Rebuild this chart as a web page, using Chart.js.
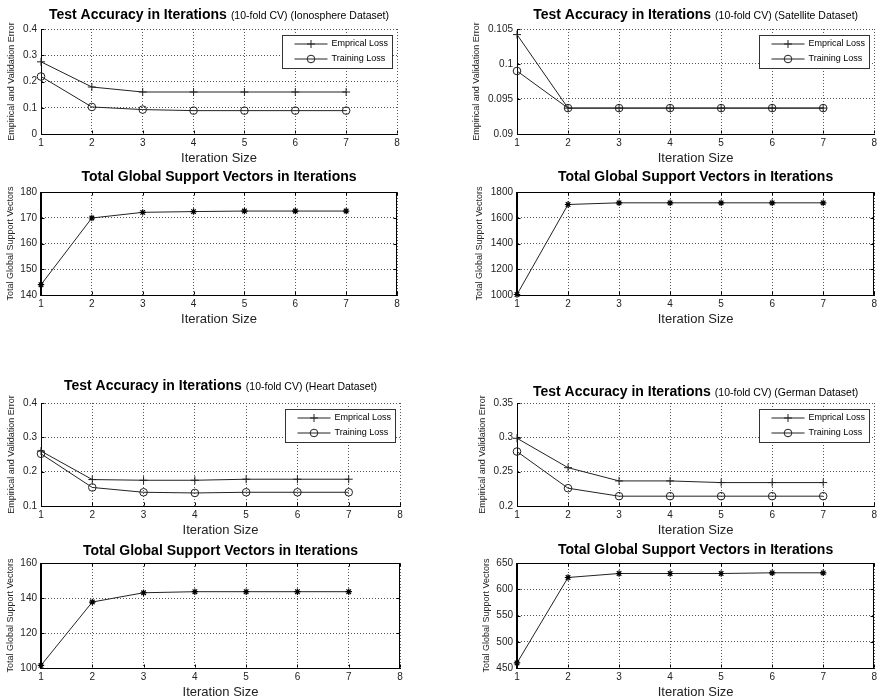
<!DOCTYPE html>
<html>
<head>
<meta charset="utf-8">
<title>Test Accuracy and Support Vectors in Iterations</title>
<script src="https://cdn.jsdelivr.net/npm/chart.js@4.4.0/dist/chart.umd.min.js"></script>
<style>
  body { margin: 0; background: #fff; }
  #wrap { position: relative; width: 880px; height: 700px; overflow: hidden; }
  #wrap canvas { position: absolute; }
</style>
</head>
<body>
<div id="wrap"></div>
<script>
'use strict';

//x values and x tick labels
var iterations = [1, 2, 3, 4, 5, 6, 7];
var xTicks = [1, 2, 3, 4, 5, 6, 7, 8];

//Ionosphere
var ionoEmprical = [0.275, 0.179, 0.160, 0.160, 0.160, 0.160, 0.160];
var ionoTraining = [0.219, 0.103, 0.093, 0.089, 0.089, 0.089, 0.089];
var ionoVectors = [144, 169.9, 172.1, 172.4, 172.6, 172.6, 172.6];

//Satellite
var satEmprical = [0.1042, 0.0937, 0.0937, 0.0937, 0.0937, 0.0937, 0.0937];
var satTraining = [0.0990, 0.0937, 0.0937, 0.0937, 0.0937, 0.0937, 0.0937];
var satVectors = [1004, 1703, 1716, 1716, 1716, 1716, 1716];

//Heart
var heartEmprical = [0.260, 0.177, 0.175, 0.175, 0.178, 0.178, 0.178];
var heartTraining = [0.252, 0.154, 0.140, 0.138, 0.140, 0.140, 0.140];
var heartVectors = [101.5, 137.7, 143.0, 143.6, 143.6, 143.6, 143.6];

//German
var germanEmprical = [0.2986, 0.2558, 0.2365, 0.2365, 0.2341, 0.2341, 0.2341];
var germanTraining = [0.2793, 0.2259, 0.2143, 0.2143, 0.2143, 0.2143, 0.2143];
var germanVectors = [459.6, 622.4, 630, 630, 630, 631.3, 631.3];

//y tick labels
var ionoErrTicks = [0, 0.1, 0.2, 0.3, 0.4];
var satErrTicks = [0.09, 0.095, 0.1, 0.105];
var heartErrTicks = [0.1, 0.2, 0.3, 0.4];
var germanErrTicks = [0.2, 0.25, 0.3, 0.35];
var ionoSvTicks = [140, 150, 160, 170, 180];
var satSvTicks = [1000, 1200, 1400, 1600, 1800];
var heartSvTicks = [100, 120, 140, 160];
var germanSvTicks = [450, 500, 550, 600, 650];

var seriesNames = ['Emprical Loss', 'Training Loss'];
var accTitle = 'Test Accuracy in Iterations';
var svTitle = 'Total Global Support Vectors in Iterations';
var errAxisTitle = 'Empirical and Validation Error';
var svAxisTitle = 'Total Global Support Vectors';
var xAxisTitle = 'Iteration Size';

var FONT = '"Liberation Sans", Arial, Helvetica, sans-serif';
var INK = '#222';

//panel layout: canvas position and plot box in page pixels
var panels = [
  {cx: 0, cy: 0, ch: 175, plot: [41, 29, 397, 134], yTitleX: 11.7, titleGap: 9.7,
    sub: '(10-fold CV) (Ionosphere Dataset)', lines: [ionoEmprical, ionoTraining], yTicks: ionoErrTicks},
  {cx: 440, cy: 0, ch: 175, plot: [517, 29, 875, 134], yTitleX: 477, titleGap: 9.7,
    sub: '(10-fold CV) (Satellite Dataset)', lines: [satEmprical, satTraining], yTicks: satErrTicks},
  {cx: 0, cy: 165, ch: 170, plot: [41, 192, 397, 295], yTitleX: 10.3, titleGap: 11,
    vectors: ionoVectors, yTicks: ionoSvTicks},
  {cx: 440, cy: 165, ch: 170, plot: [517, 192, 875, 295], yTitleX: 480, titleGap: 11,
    vectors: satVectors, yTicks: satSvTicks},
  {cx: 0, cy: 365, ch: 175, plot: [41, 403, 400, 506], yTitleX: 11.7, titleGap: 12.7,
    sub: '(10-fold CV) (Heart Dataset)', lines: [heartEmprical, heartTraining], yTicks: heartErrTicks},
  {cx: 440, cy: 365, ch: 175, plot: [517, 403, 875, 506], yTitleX: 483, titleGap: 7.5,
    sub: '(10-fold CV) (German Dataset)', lines: [germanEmprical, germanTraining], yTicks: germanErrTicks},
  {cx: 0, cy: 535, ch: 165, plot: [41, 563, 400, 668], yTitleX: 10.7, titleGap: 8,
    vectors: heartVectors, yTicks: heartSvTicks},
  {cx: 440, cy: 535, ch: 165, plot: [517, 563, 875, 668], yTitleX: 487, titleGap: 9,
    vectors: germanVectors, yTicks: germanSvTicks}
];

function toPoints(values) {
  return iterations.map(function (x, i) { return {x: x, y: values[i]}; });
}

function marker(ctx, style, r, x, y) {
  if (Chart.helpers && Chart.helpers.drawPoint) {
    Chart.helpers.drawPoint(ctx, {pointStyle: style, radius: r, borderWidth: 1, rotation: 0}, x, y);
  }
}

//Title with a big bold part and a small plain part
var splitTitle = {
  id: 'splitTitle',
  afterDraw: function (chart, args, opts) {
    var ctx = chart.ctx, a = chart.chartArea;
    var big = 'bold 14px ' + FONT, small = '10.5px ' + FONT;
    ctx.save();
    ctx.font = big;
    var w1 = ctx.measureText(opts.main).width, w2 = 0, gap = 0;
    if (opts.sub) {
      ctx.font = small;
      w2 = ctx.measureText(opts.sub).width;
      gap = 4;
    }
    var x = (a.left + a.right) / 2 - (w1 + gap + w2) / 2;
    var y = a.top - opts.gap;
    ctx.fillStyle = '#000';
    ctx.textAlign = 'left';
    ctx.textBaseline = 'alphabetic';
    ctx.font = big;
    ctx.fillText(opts.main, x, y);
    if (opts.sub) {
      ctx.font = small;
      ctx.fillText(opts.sub, x + w1 + gap, y);
    }
    ctx.restore();
  }
};

//Solid box and small inner tick marks, matlab style
var axesBox = {
  id: 'axesBox',
  beforeDatasetsDraw: function (chart, args, opts) {
    var ctx = chart.ctx, a = chart.chartArea;
    var xs = chart.scales.x, ys = chart.scales.y;
    var L = Math.round(a.left) + 0.5, R = Math.round(a.right) - 0.5;
    var T = Math.round(a.top) + 0.5, B = Math.round(a.bottom) - 0.5;
    ctx.save();
    ctx.strokeStyle = '#000';
    ctx.lineWidth = 1;
    ctx.beginPath();
    xs.ticks.forEach(function (t) {
      var px = Math.round(xs.getPixelForValue(t.value)) + 0.5;
      ctx.moveTo(px, B); ctx.lineTo(px, B - 3);
      if (opts.box) { ctx.moveTo(px, T); ctx.lineTo(px, T + 3); }
    });
    ys.ticks.forEach(function (t) {
      var py = Math.round(ys.getPixelForValue(t.value)) + 0.5;
      ctx.moveTo(L, py); ctx.lineTo(L + 3, py);
      if (opts.box) { ctx.moveTo(R, py); ctx.lineTo(R - 3, py); }
    });
    ctx.stroke();
    if (opts.box) {
      ctx.strokeRect(L - 1, T, R - L + 1, B - T + 1);
    }
    ctx.restore();
  }
};

//Legend box inside the top right corner
var boxLegend = {
  id: 'boxLegend',
  afterDatasetsDraw: function (chart, args, opts) {
    if (!opts.show) return;
    var ctx = chart.ctx, a = chart.chartArea;
    var sets = chart.data.datasets;
    ctx.save();
    ctx.font = '9px ' + FONT;
    var textW = 0;
    sets.forEach(function (d) { textW = Math.max(textW, ctx.measureText(d.label).width); });
    var w = Math.round(12 + 33 + 4 + textW + 4), h = 33;
    var x = Math.round(a.right - 5 - w) + 0.5, y = Math.round(a.top + 6) + 0.5;
    ctx.fillStyle = '#fff';
    ctx.fillRect(x, y, w, h);
    ctx.strokeStyle = '#333';
    ctx.lineWidth = 1;
    ctx.strokeRect(x, y, w, h);
    sets.forEach(function (d, i) {
      var cy = Math.round(y + 8.5 + i * 15.3);
      ctx.strokeStyle = d.borderColor;
      ctx.beginPath();
      ctx.moveTo(x + 12, cy); ctx.lineTo(x + 45, cy);
      ctx.stroke();
      ctx.fillStyle = d.pointBackgroundColor;
      marker(ctx, d.pointStyle, d.pointRadius, x + 28.5, cy);
      ctx.fillStyle = '#000';
      ctx.textAlign = 'left';
      ctx.textBaseline = 'middle';
      ctx.fillText(d.label, x + 49, cy);
    });
    ctx.restore();
  }
};

var wrap = document.getElementById('wrap');

panels.forEach(function (p) {
  var canvas = document.createElement('canvas');
  canvas.width = 440;
  canvas.height = p.ch;
  canvas.style.left = p.cx + 'px';
  canvas.style.top = p.cy + 'px';
  wrap.appendChild(canvas);

  var isSv = !!p.vectors;
  var datasets;
  if (isSv) {
    datasets = [{
      label: 'Support Vectors',
      data: toPoints(p.vectors),
      borderColor: INK,
      borderWidth: 1,
      pointStyle: 'star',
      pointRadius: 3.2,
      pointBorderWidth: 1.2,
      pointBorderColor: '#000',
      pointBackgroundColor: '#000'
    }];
  } else {
    datasets = [{
      label: seriesNames[0],
      data: toPoints(p.lines[0]),
      borderColor: INK,
      borderWidth: 1,
      pointStyle: 'cross',
      pointRadius: 4,
      pointBorderWidth: 1,
      pointBorderColor: INK,
      pointBackgroundColor: 'rgba(0,0,0,0)'
    }, {
      label: seriesNames[1],
      data: toPoints(p.lines[1]),
      borderColor: INK,
      borderWidth: 1,
      pointStyle: 'circle',
      pointRadius: 3.8,
      pointBorderWidth: 1,
      pointBorderColor: INK,
      pointBackgroundColor: 'rgba(0,0,0,0)'
    }];
  }

  var plotL = p.plot[0] - p.cx, plotT = p.plot[1] - p.cy;
  var plotR = p.plot[2] - p.cx, plotB = p.plot[3] - p.cy;
  var yTicks = p.yTicks;

  new Chart(canvas.getContext('2d'), {
    type: 'line',
    data: {datasets: datasets},
    plugins: [axesBox, boxLegend, splitTitle],
    options: {
      responsive: false,
      animation: false,
      devicePixelRatio: 1,
      events: [],
      layout: {padding: {left: 0, top: plotT, right: 440 - plotR, bottom: p.ch - plotB - 32}},
      elements: {line: {tension: 0, fill: false}},
      datasets: {line: {clip: false}},
      scales: {
        x: {
          type: 'linear',
          min: xTicks[0],
          max: xTicks[xTicks.length - 1],
          afterBuildTicks: function (s) { s.ticks = xTicks.map(function (v) { return {value: v}; }); },
          afterFit: function (s) { s.height = 32; },
          ticks: {padding: 3, color: INK, font: {family: FONT, size: 10}, maxRotation: 0,
            callback: function (v) { return String(v); }},
          grid: {color: '#555', lineWidth: 1, drawTicks: false},
          border: {display: true, color: '#000', width: 1, dash: [1, 2]},
          title: {display: true, text: xAxisTitle, color: INK, padding: 0, font: {family: FONT, size: 13}}
        },
        y: {
          type: 'linear',
          min: yTicks[0],
          max: yTicks[yTicks.length - 1],
          afterBuildTicks: function (s) { s.ticks = yTicks.map(function (v) { return {value: v}; }); },
          afterFit: function (s) { s.width = plotL; },
          ticks: {padding: 4, color: INK, font: {family: FONT, size: 10},
            callback: function (v) { return String(v); }},
          grid: {color: '#555', lineWidth: 1, drawTicks: false},
          border: {display: true, color: '#000', width: 1, dash: [1, 2]},
          title: {display: true, text: isSv ? svAxisTitle : errAxisTitle, color: INK,
            padding: {top: p.yTitleX - p.cx - 5.4, bottom: 0}, font: {family: FONT, size: 9}}
        }
      },
      plugins: {
        legend: {display: false},
        tooltip: {enabled: false},
        title: {display: false},
        splitTitle: {main: isSv ? svTitle : accTitle, sub: p.sub, gap: p.titleGap},
        axesBox: {box: isSv},
        boxLegend: {show: !isSv}
      }
    }
  });
});
</script>
</body>
</html>
